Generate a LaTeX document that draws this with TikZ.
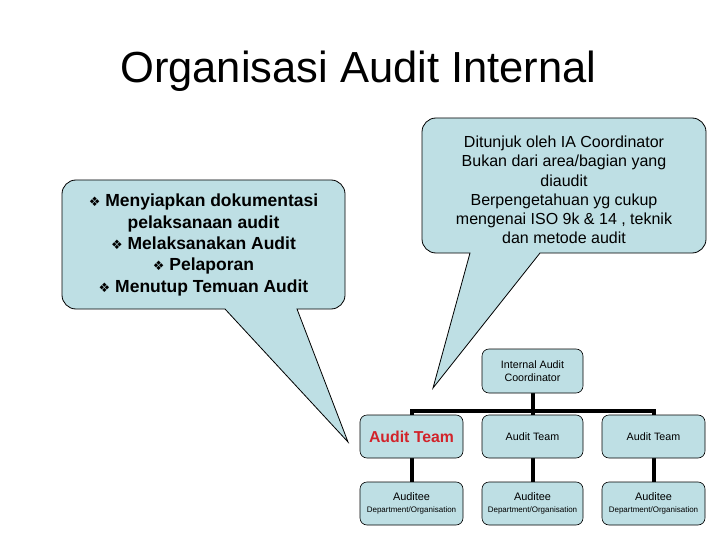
\documentclass[tikz,border=0pt]{standalone}
\usepackage{fontspec}
\setmainfont{Liberation Sans}
\newfontfamily\dejavu{DejaVu Sans}
\usetikzlibrary{backgrounds}
\definecolor{boxfill}{RGB}{190,223,228}
\definecolor{teamred}{RGB}{210,35,42}
\newcommand{\myblt}{{\dejavu\fontsize{13}{13}\selectfont ❖}}
\begin{document}
\begin{tikzpicture}[x=1pt,y=-1pt,
  callout/.style={draw=black, line width=0.8pt, fill=boxfill},
  orgbox/.style={draw=black, line width=0.6pt, fill=boxfill, rounded corners=7pt,
    minimum width=102pt, minimum height=43pt, inner sep=0pt, align=center},
  conn/.style={line width=4pt},
  lefttext/.style={align=center, font=\bfseries\fontsize{17.5}{21.3}\selectfont},
  righttext/.style={align=center, font=\fontsize{16}{19.3}\selectfont},
  smalltext/.style={font=\fontsize{10.7}{12.7}\selectfont}]
\useasboundingbox (0,0) rectangle (720,540);
% title
\node[anchor=base west, inner sep=0pt, font=\fontsize{43.5}{50}\selectfont] (title) at (120,83) {Organisasi Audit Internal};
% left callout
\draw[callout] (225,309) [rounded corners=14pt] -- (62,309) -- (62,180) -- (345,180) -- (345,309) [sharp corners] -- (297,309) -- (348,442) -- cycle;
\node[lefttext] (ltext) at (203.5,245) {\myblt\ Menyiapkan dokumentasi\\pelaksanaan audit\\\myblt\ Melaksanakan Audit\\\myblt\ Pelaporan\\\myblt\ Menutup Temuan Audit};
% right callout
\draw[callout] (470,253) [rounded corners=14pt] -- (422,253) -- (422,118) -- (706,118) -- (706,253) [sharp corners] -- (540,253) -- (433,388) -- cycle;
\node[righttext] (rtext) at (564,190) {Ditunjuk oleh IA Coordinator\\Bukan dari area/bagian yang\\diaudit\\Berpengetahuan yg cukup\\mengenai ISO 9k \& 14 , teknik\\dan metode audit};
% org chart
\node[orgbox, minimum width=101pt, minimum height=44pt, smalltext] (coord) at (532.5,371) {Internal Audit\\Coordinator};
\node[orgbox, minimum width=103pt, text=teamred, font=\bfseries\fontsize{15.8}{18}\selectfont] (t1) at (411.5,436.5) {Audit Team};
\node[orgbox, minimum width=101pt, smalltext] (t2) at (532.5,436.5) {Audit Team};
\node[orgbox, minimum width=103pt, smalltext] (t3) at (653.5,436.5) {Audit Team};
\node[orgbox, minimum width=103pt, font=\fontsize{10.9}{12.7}\selectfont] (a1) at (411.5,503.5) {Auditee\\[-1pt]{\fontsize{8}{9}\selectfont Department/Organisation}};
\node[orgbox, minimum width=101pt, font=\fontsize{10.9}{12.7}\selectfont] (a2) at (532.5,503.5) {Auditee\\[-1pt]{\fontsize{8}{9}\selectfont Department/Organisation}};
\node[orgbox, minimum width=103pt, font=\fontsize{10.9}{12.7}\selectfont] (a3) at (653.5,503.5) {Auditee\\[-1pt]{\fontsize{8}{9}\selectfont Department/Organisation}};
\begin{pgfonlayer}{background}
\fill[white] (0,0) rectangle (720,540);
\draw[conn] (coord.south) -- (t2.north);
\draw[conn] (t1.north) -- ++(0,-4) -| (t3.north);
\draw[conn] (t1.south) -- (a1.north);
\draw[conn] (t2.south) -- (a2.north);
\draw[conn] (t3.south) -- (a3.north);
\end{pgfonlayer}
\end{tikzpicture}
\end{document}
